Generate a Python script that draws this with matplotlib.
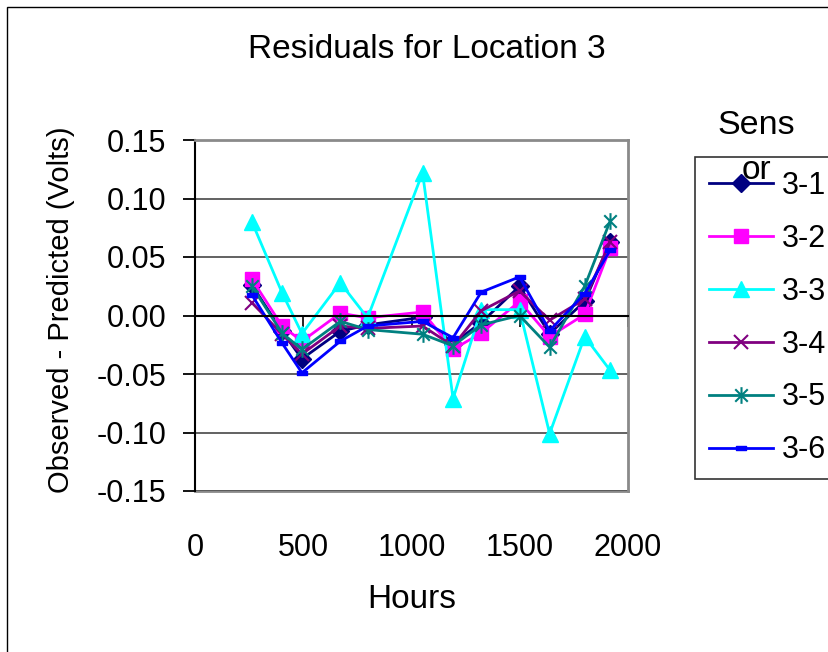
import matplotlib
matplotlib.use("Agg")
import matplotlib.pyplot as plt
from matplotlib.path import Path
from matplotlib.patches import Rectangle

plt.rcParams['font.family'] = ['Liberation Sans', 'DejaVu Sans']

hours = [263, 402, 494, 671, 797, 1051, 1192, 1322, 1499, 1638, 1800, 1918]
s3_1 = [0.026, -0.0135, -0.037, -0.0135, -0.008, -0.0015, -0.024, -0.006, 0.025, -0.0155, 0.012, 0.063]
s3_2 = [0.031, -0.009, -0.022, 0.002, -0.002, 0.003, -0.029, -0.015, 0.012, -0.018, 0.001, 0.058]
s3_3 = [0.080, 0.0195, -0.0155, 0.028, -0.002, 0.122, -0.071, 0.005, 0.005, -0.101, -0.018, -0.047]
s3_4 = [0.011, -0.016, -0.033, -0.009, -0.011, -0.009, -0.026, 0.004, 0.021, -0.004, 0.014, 0.063]
s3_5 = [0.025, -0.015, -0.029, -0.005, -0.012, -0.016, -0.026, -0.008, 0.0, -0.027, 0.025, 0.081]
s3_6 = [0.0175, -0.0235, -0.049, -0.022, -0.009, -0.005, -0.019, 0.020, 0.033, -0.013, 0.0187, 0.056]

labels = ['3-1', '3-2', '3-3', '3-4', '3-5', '3-6']
series = [s3_1, s3_2, s3_3, s3_4, s3_5, s3_6]
colors = ['#000080', '#FF00FF', '#00FFFF', '#800080', '#008080', '#0000FF']

star = Path([(0, -1), (0, 1), (-0.75, -0.75), (0.75, 0.75), (-0.75, 0.75), (0.75, -0.75)],
            [Path.MOVETO, Path.LINETO, Path.MOVETO, Path.LINETO, Path.MOVETO, Path.LINETO])
dash = Path([(-1, -0.3), (1, -0.3), (1, 0.3), (-1, 0.3), (-1, -0.3)],
            [Path.MOVETO, Path.LINETO, Path.LINETO, Path.LINETO, Path.CLOSEPOLY])
markers = ['D', 's', '^', 'x', star, dash]
msizes = [9, 10, 11, 10, 12, 7.5]
mews = [1, 1, 1, 1.5, 1.5, 1]

W, H = 829, 652
fig = plt.figure(figsize=(W / 100, H / 100), dpi=100)
ax = fig.add_axes([195 / W, 1 - 491 / H, 433 / W, 351 / H])

for lab, ys, c, m, ms, mew in zip(labels, series, colors, markers, msizes, mews):
    ax.plot(hours, ys, color=c, lw=2, marker=m, markersize=ms, markerfacecolor=c,
            markeredgecolor=c, markeredgewidth=mew, label=lab)

ax.set_xlim(0, 2000)
ax.set_ylim(-0.15, 0.15)
yt = [-0.15, -0.10, -0.05, 0.00, 0.05, 0.10, 0.15]
ax.set_yticks(yt)
ax.set_yticklabels([f"{v:.2f}" for v in yt])
xt = [0, 500, 1000, 1500, 2000]
ax.set_xticks(xt)
ax.tick_params(axis='x', direction='out', length=8, width=1.2, labelbottom=False, color='black')
ax.tick_params(axis='y', direction='out', length=8.5, width=1.3, pad=12, labelsize=22, color='black')
ax.grid(axis='y', color='#555555', lw=1.3)
ax.set_axisbelow(True)
for side in ['top', 'right']:
    ax.spines[side].set_color('#8a8a8a')
    ax.spines[side].set_linewidth(2)
ax.spines['left'].set_color('black')
ax.spines['left'].set_linewidth(1.5)
ax.spines['bottom'].set_position(('data', 0))
ax.spines['bottom'].set_color('black')
ax.spines['bottom'].set_linewidth(1.5)

sec = ax.secondary_xaxis('bottom')
sec.set_xticks(xt)
sec.tick_params(length=0, pad=30, labelsize=22)
sec.spines['bottom'].set_color('#8a8a8a')
sec.spines['bottom'].set_linewidth(2)

ax.set_ylabel('Observed - Predicted (Volts)', fontsize=21)
ax.yaxis.set_label_coords((61 - 195) / 433, (491 - 310) / 351)
ax.yaxis.label.set_va('center')
ax.text((411.5 - 195) / 433, (491 - 600) / 351, 'Hours', fontsize=24, ha='center', va='center',
        transform=ax.transAxes)

fig.text(427 / W, 1 - 49 / H, 'Residuals for Location 3', fontsize=24, ha='center', va='center')

leg = ax.legend(loc='upper left', bbox_to_anchor=(695 / W, 1 - 157 / H), bbox_transform=fig.transFigure,
                borderaxespad=0, fontsize=22, frameon=True, fancybox=False, handlelength=2.1,
                handletextpad=0.3, labelspacing=0.75, borderpad=0.45)
leg.get_frame().set_edgecolor('black')
leg.get_frame().set_linewidth(1.2)
fig.text(756 / W, 1 - 125 / H, 'Sens', fontsize=24.5, ha='center', va='center')
fig.text(756 / W, 1 - 170 / H, 'or', fontsize=24, ha='center', va='center', zorder=10)

fig.patches.append(Rectangle((7.5 / W, -0.1), 1.2, 1 - 7 / H + 0.1, transform=fig.transFigure,
                             fill=False, edgecolor='black', lw=1))

fig.savefig('out.png', dpi=100)
